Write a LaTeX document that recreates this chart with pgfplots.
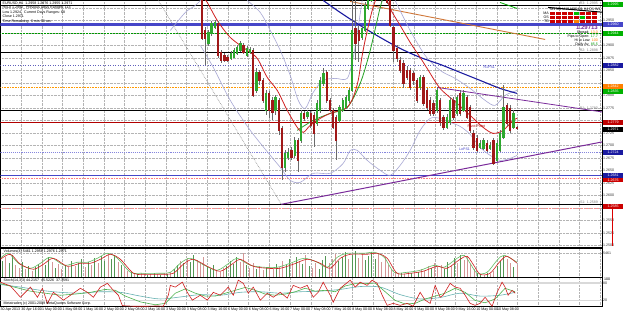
\documentclass[border=0pt]{standalone}
\usepackage{pgfplots}
\usepackage{pgfplotstable}
\pgfplotsset{compat=1.18}
\usepackage{fontspec}
\setmainfont{Liberation Sans}
\definecolor{bull}{HTML}{2EA82E}
\definecolor{bear}{HTML}{A01818}
\definecolor{wick}{HTML}{6A6A6A}
\definecolor{gridc}{HTML}{B4B4B4}
\definecolor{lav}{HTML}{A8A8D4}
\definecolor{maRed}{HTML}{D02020}
\definecolor{maGreen}{HTML}{22A022}
\definecolor{maBlue}{HTML}{1A1AA0}
\definecolor{pivBlue}{HTML}{4646C8}
\definecolor{brownline}{HTML}{D0783A}
\definecolor{purp}{HTML}{7A2A9A}
\newcommand{\tf}{\fontsize{3.6}{4.2}\selectfont}

\pgfplotstableread{
x o h l c
201.7 -3 -6 40 38
204.9 30 27 65 38
208.1 43 30 46 32
211.3 33 21 36 23
214.5 27 20 29 22
217.7 23 21 58 55
220.9 52 50 63 60
224.1 55 53 62 60
227.3 57 55 62 60
230.5 58 51 60 53
233.7 57 48 58 50
236.9 53 45 55 47
240.1 50 41 52 43
243.3 45 43 54 52
246.5 55 46 57 48
249.7 52 47 54 49
252.9 50 48 97 95
256.1 90 68 93 72
259.3 72 70 85 80
262.5 80 78 103 100
265.7 110 90 115 93
268.9 93 91 118 110
272.1 100 97 120 112
275.3 110 95 115 97
278.5 100 98 135 130
281.7 128 126 180 167
284.9 167 150 172 153
288.1 157 148 160 152
291.3 150 147 160 157
294.5 155 137 158 140
297.7 140 138 172 160
300.9 140 110 143 113
304.1 113 111 121 118
307.3 116 110 119 112
310.5 113 111 128 125
313.7 115 112 147 133
316.9 123 100 126 103
320.1 110 77 113 80
323.3 83 68 86 73
326.5 72 70 103 100
329.7 100 98 112 110
332.9 110 108 129 127
336.1 117 115 160 140
339.3 120 105 123 107
342.5 110 98 112 100
345.7 107 95 109 97
348.9 100 88 103 90
352.1 90 0 92 30
355.3 28 -2 60 43
358.5 30 25 62 40
361.7 37 26 40 28
364.9 30 2 32 5
368.1 8 -5 10 -2
371.3 0 -14 2 -10
374.5 -10 -15 -1 -4
377.7 -5 -9 0 -2
380.9 -4 -8 2 -6
384.0 -8 -12 -2 -6
386.7 -4 -8 4 2
390.0 0 -3 27 25
393.3 27 25 62 50
396.7 48 45 62 58
400.0 60 57 73 70
403.3 63 60 88 83
406.7 70 66 80 77
410.0 70 68 90 87
413.3 73 71 85 80
416.7 80 78 103 100
420.0 87 75 90 77
423.3 77 75 106 103
426.7 90 88 110 107
430.0 100 97 116 113
433.3 103 100 116 113
436.7 110 87 113 90
440.0 100 98 126 122
443.3 117 115 130 127
446.7 127 114 129 117
450.0 122 97 125 100
453.3 100 97 120 117
456.7 113 95 116 97
460.0 93 90 116 113
463.3 110 90 112 93
466.7 97 95 119 117
470.0 107 105 133 130
473.3 133 130 150 147
476.7 138 135 152 150
480.0 147 140 149 143
483.3 148 138 150 140
486.7 143 140 152 150
490.0 148 142 150 145
493.3 140 138 165 163
496.7 160 140 162 143
500.0 150 130 152 133
503.3 137 85 139 107
506.7 105 103 126 123
510.0 108 105 133 130
513.3 127 110 129 113
516.7 127 126 130 128.5
}\candles

\pgfplotstableread{
i h c
0 16 1
1 20 0
2 14 1
3 22 1
4 12 0
5 9 0
6 15 1
7 8 0
8 11 1
9 6 0
10 10 1
11 13 1
12 17 0
13 12 1
14 20 1
15 15 0
16 9 1
17 13 0
18 8 0
19 12 1
20 10 0
21 16 1
22 11 0
23 14 1
24 18 1
25 10 0
26 15 1
27 12 0
28 19 1
29 14 0
30 21 1
31 16 1
32 24 0
33 18 1
34 22 1
35 15 0
36 12 1
37 9 0
38 6 0
39 5 1
40 4 0
41 3 1
42 4 0
43 3 0
44 2 1
45 3 0
46 4 1
47 3 0
48 2 1
49 4 0
50 3 1
51 5 0
52 8 1
53 12 1
54 16 0
55 14 1
56 19 0
57 15 1
58 22 1
59 17 0
60 14 0
61 20 0
62 10 1
63 8 1
64 12 1
65 7 0
66 5 0
67 9 0
68 11 1
69 16 1
70 13 1
71 20 1
72 15 0
73 24 0
74 12 1
75 9 0
76 14 0
77 8 1
78 11 0
79 7 0
80 10 1
81 12 0
82 8 0
83 13 1
84 10 0
85 16 0
86 12 1
87 18 1
88 14 0
89 20 1
90 16 0
91 13 1
92 22 0
93 11 1
94 9 0
95 14 0
96 8 1
97 17 1
98 21 1
99 14 0
100 18 0
101 23 0
102 16 1
103 20 1
104 25 1
105 18 0
106 22 1
107 26 1
108 19 0
109 24 0
110 17 1
111 21 1
112 25 1
113 18 1
114 23 0
115 15 0
116 20 0
117 12 0
118 8 0
119 5 0
120 3 0
121 4 1
122 3 0
123 5 0
124 4 1
125 6 0
126 5 1
127 8 0
128 6 0
129 11 0
130 9 1
131 14 0
132 10 0
133 12 0
134 8 1
135 15 1
136 11 0
137 19 1
138 14 0
139 22 1
140 17 0
141 20 0
142 13 0
143 8 0
144 4 1
145 3 1
146 2 0
147 4 1
148 3 0
149 6 0
150 11 1
151 16 1
152 21 1
153 18 0
154 14 0
155 10 1
156 12 0
}\volumes

\pgfplotsset{
 panel/.style={scale only axis, width=602pt, xmin=0, xmax=602,
   axis line style={black, line width=0.9pt},
   major tick length=0pt,
   grid=major, grid style={gridc, densely dotted, line width=0.4pt},
   xtick={20.7,41.4,62.1,82.8,103.5,124.2,144.9,165.6,186.3,207,227.7,248.4,269.1,289.8,310.5,331.2,351.9,372.6,393.3,414,434.7,455.4,476.1,496.8,517.5,538.2,558.9,579.6,600.3},
   xticklabels={}, clip=true,
   yticklabel pos=right,
   yticklabel style={font=\tf, anchor=west, xshift=1pt, inner sep=0pt, text=black!80},
 },
}

\begin{document}
\begin{tikzpicture}[x=1pt,y=1pt]
\fill[white] (0,0) rectangle (625,-314);
% ================= MAIN PANEL =================
\begin{axis}[panel, at={(0pt,0pt)}, anchor=north west, height=247pt,
  ymin=0, ymax=247, y dir=reverse,
  ytick={8,20,33,45,58,70,83,95,108,120,133,145,158,170,183,195,208,220,233,245},
  yticklabels={,1.2950,,1.2900,1.2875,1.2850,,1.2800,1.2775,,1.2725,1.2700,1.2675,1.2650,1.2625,1.2600,,1.2550,1.2525,1.2500}]
% horizontal levels
\addplot[black, line width=1.1pt] coordinates {(0,5) (602,5)};
\addplot[pivBlue, line width=2.4pt] coordinates {(0,24) (602,24)};
\addplot[green!60!black, densely dotted, line width=0.5pt] coordinates {(0,33) (602,33)};
\addplot[black, line width=1.1pt] coordinates {(0,52) (602,52)};
\addplot[maBlue!70, dotted, line width=0.5pt] coordinates {(0,65) (602,65)};
\addplot[orange!80!yellow, densely dotted, line width=0.6pt] coordinates {(0,87) (602,87)};
\addplot[black, line width=1.1pt] coordinates {(0,110) (602,110)};
\addplot[red!70!black, line width=0.6pt] coordinates {(0,122) (602,122)};
\addplot[lav!80!blue, densely dotted, line width=1.1pt] coordinates {(0,152) (602,152)};
\addplot[pivBlue, line width=0.6pt] coordinates {(0,175) (602,175)};
\addplot[red!50, densely dotted, line width=0.6pt] coordinates {(0,178) (602,178)};
\addplot[black, line width=1.1pt] coordinates {(0,204) (602,204)};
\addplot[red!45, densely dotted, line width=0.6pt] coordinates {(0,208) (602,208)};
% trend lines
\addplot[gray, densely dotted, line width=0.6pt] coordinates {(158,0) (281,204)};
\addplot[purp, line width=1.0pt] coordinates {(281,204) (605,141)};
\addplot[purp, line width=0.8pt] coordinates {(437,87) (605,112)};
\addplot[brownline, line width=0.9pt] coordinates {(350,1) (545,39)};
\addplot[black, line width=1.0pt] coordinates {(548,7) (605,12)};
\addplot[green!70!black, line width=0.8pt] coordinates {(500,2) (517,8)};
% Bollinger bands
\addplot[lav, line width=0.6pt, smooth] coordinates {(170,30) (185,12) (195,5) (202,-2)};
\addplot[lav, line width=0.6pt, smooth] coordinates {(247,0) (260,12) (270,30) (280,50) (290,75) (298,100) (305,108) (313,92) (323,80) (335,78) (347,78) (353,57) (357,33) (362,0)};
\addplot[lav, line width=0.6pt, smooth] coordinates {(395,0) (410,30) (425,55) (440,70) (455,78) (470,88) (485,100) (495,105) (505,95) (517,90)};
\addplot[lav, line width=0.6pt, smooth] coordinates {(200,45) (213,67) (230,100) (250,130) (270,155) (280,167) (290,180) (300,182) (313,173) (330,173) (343,163) (350,150) (357,150) (367,160) (380,170) (390,175) (400,165) (410,150) (420,130) (430,118) (440,118) (450,122) (460,126) (470,134) (480,147) (490,155) (500,160) (510,158) (517,155)};
% moving averages
\addplot[maBlue, line width=1.1pt, smooth] coordinates {(323,0) (340,12) (360,25) (380,37) (400,48) (420,57) (440,64) (460,72) (480,80) (500,88) (517,93)};
\addplot[maGreen, line width=0.8pt, smooth] coordinates {(297,130) (313,120) (330,113) (347,107) (360,83) (370,50) (380,7) (385,-8)};
\addplot[maRed, line width=0.8pt, smooth] coordinates {(203,-2) (207,2) (217,20) (230,37) (247,50) (257,58) (267,77) (277,90) (287,110) (297,127) (303,132) (310,125) (320,118) (330,113) (340,110) (347,107) (353,97) (358,80) (362,55) (366,35) (372,10) (378,-8)};
\addplot[maRed, line width=0.8pt, smooth] coordinates {(385,-8) (390,8) (400,25) (410,42) (420,57) (427,68) (440,88) (457,103) (470,115) (483,127) (493,133) (503,130) (513,120) (517,118)};
% candles: wicks
\addplot[draw=none, forget plot, error bars/.cd, y dir=both, y explicit, error mark=none,
  error bar style={draw=wick, line width=0.5pt}]
  table[x=x, y expr={(\thisrow{h}+\thisrow{l})/2}, y error expr={(\thisrow{l}-\thisrow{h})/2}] {\candles};
% bull bodies
\addplot[draw=none, forget plot, restrict expr to domain={\thisrow{o}-\thisrow{c}}{0.01:1000},
  error bars/.cd, y dir=both, y explicit, error mark=none,
  error bar style={draw=bull, line width=2.3pt}]
  table[x=x, y expr={(\thisrow{o}+\thisrow{c})/2}, y error expr={abs(\thisrow{o}-\thisrow{c})/2+0.3}] {\candles};
% bear bodies
\addplot[draw=none, forget plot, restrict expr to domain={\thisrow{c}-\thisrow{o}}{0:1000},
  error bars/.cd, y dir=both, y explicit, error mark=none,
  error bar style={draw=bear, line width=2.3pt}]
  table[x=x, y expr={(\thisrow{o}+\thisrow{c})/2}, y error expr={abs(\thisrow{o}-\thisrow{c})/2+0.3}] {\candles};
\end{axis}
% ================= VOLUME PANEL =================
\begin{axis}[panel, at={(0pt,-248pt)}, anchor=north west, height=29pt,
  ymin=0, ymax=29, ytick={24}, yticklabels={5461}]
\addplot[draw=none, forget plot, restrict expr to domain={\thisrow{c}}{0.5:1.5},
  error bars/.cd, y dir=plus, y explicit, error mark=none,
  error bar style={draw=bull!55!gray, line width=0.7pt}]
  table[x expr={2+3.3*\thisrow{i}}, y expr=0, y error=h] {\volumes};
\addplot[draw=none, forget plot, restrict expr to domain={\thisrow{c}}{-0.5:0.5},
  error bars/.cd, y dir=plus, y explicit, error mark=none,
  error bar style={draw=bear!45!white, line width=0.7pt}]
  table[x expr={2+3.3*\thisrow{i}}, y expr=0, y error=h] {\volumes};
\addplot[maGreen!70, line width=0.6pt, smooth] coordinates {(0,19) (8,24) (18,14) (30,9) (40,14) (50,20) (64,12) (77,15) (87,15) (97,19) (107,24) (117,19) (130,5) (140,4) (157,4) (170,5) (180,14) (190,19) (204,12) (217,7) (230,15) (237,19) (250,12) (264,10) (277,10) (290,14) (304,19) (317,15) (327,10) (337,20) (347,24) (364,24) (374,25) (384,20) (394,5) (407,5) (420,7) (434,12) (444,10) (457,19) (464,22) (470,14) (477,4) (487,5) (497,17) (504,22) (517,15)};
\addplot[maRed, line width=0.6pt, smooth] coordinates {(0,18) (10,23) (20,13) (33,8) (43,13) (53,19) (67,11) (80,14) (90,14) (100,18) (110,23) (120,18) (133,4) (143,3) (160,3) (173,4) (183,13) (193,18) (207,11) (220,6) (233,14) (240,18) (253,11) (267,9) (280,9) (293,13) (307,18) (320,14) (330,9) (340,19) (350,23) (367,23) (377,24) (387,19) (397,4) (410,4) (423,6) (437,11) (447,9) (460,18) (467,21) (473,13) (480,3) (490,4) (500,16) (507,21) (517,14)};
\end{axis}
% ================= STOCH PANEL =================
\begin{axis}[panel, at={(0pt,-277pt)}, anchor=north west, height=29pt,
  ymin=0, ymax=100, ytick={20,80}, yticklabels={20,80},
  xticklabels={30 Apr 2013,30 Apr 16:00,1 May 00:00,1 May 08:00,1 May 16:00,2 May 00:00,2 May 08:00,2 May 16:00,3 May 00:00,3 May 08:00,3 May 16:00,6 May 00:00,6 May 08:00,6 May 16:00,7 May 00:00,7 May 08:00,7 May 16:00,8 May 00:00,8 May 08:00,8 May 16:00,9 May 00:00,9 May 08:00,9 May 16:00,10 May 00:00,10 May 08:00},
  xticklabel style={font=\tf, anchor=north west, inner sep=0pt, yshift=-2pt, xshift=-20.7pt}]
\addplot[gray!30, line width=1.4pt] coordinates {(0,80) (602,80)};
\addplot[gray!30, line width=1.4pt] coordinates {(0,20) (602,20)};
\addplot[teal!60, line width=0.6pt, smooth] coordinates {(0,75) (20,66) (40,55) (60,48) (80,45) (100,50) (120,48) (140,35) (160,25) (180,32) (200,40) (220,38) (240,48) (260,50) (280,45) (300,50) (320,52) (340,58) (360,68) (380,66) (400,40) (420,25) (440,30) (460,45) (480,35) (500,38) (515,48)};
\addplot[maGreen!80, line width=0.6pt] coordinates {(0,78) (15,65) (30,52) (45,45) (60,38) (75,42) (90,48) (105,58) (115,55) (125,35) (140,15) (155,5) (165,10) (175,45) (185,60) (195,45) (205,35) (215,35) (225,45) (235,55) (245,65) (255,55) (265,42) (275,38) (285,42) (295,50) (305,62) (315,52) (325,55) (335,50) (345,70) (355,78) (365,78) (375,80) (385,50) (395,20) (405,8) (415,10) (425,25) (435,35) (445,45) (455,62) (465,48) (475,20) (485,12) (495,25) (505,62) (515,50)};
\addplot[maRed, line width=0.6pt] coordinates {(0,83) (10,70) (20,31) (30,66) (37,31) (42,62) (47,10) (53,48) (63,21) (73,45) (80,62) (87,48) (93,31) (100,66) (107,79) (113,55) (118,38) (122,2) (133,0) (147,0) (157,1) (163,0) (168,38) (170,72) (175,66) (182,83) (187,48) (192,21) (200,38) (207,21) (213,48) (220,38) (228,66) (233,38) (238,90) (243,79) (248,45) (253,66) (260,21) (267,45) (273,31) (280,48) (287,28) (293,72) (300,62) (307,72) (313,31) (318,48) (323,83) (330,38) (333,14) (340,62) (350,90) (355,66) (360,83) (367,72) (372,90) (377,79) (382,38) (387,3) (393,10) (400,3) (407,10) (413,0) (420,48) (425,21) (430,10) (435,72) (440,31) (443,38) (450,79) (455,66) (460,62) (465,38) (470,10) (475,3) (480,10) (485,31) (492,0) (497,48) (502,83) (505,66) (508,38) (512,55) (515,45)};
\end{axis}
% ================= TEXT OVERLAYS =================
\begin{scope}[font=\tf, inner sep=0pt]
\node[anchor=north west, align=left] at (2,-1.5) {EURUSD,H1\ \ 1.2958 1.2976 1.2955 1.2971\\Hi/Lo 1.2992\ \ \ Previous Days Ranges: 113\\Low 1.2924\ \ \ Current Days Ranges: 68\\Close 1.2971\\[1pt]Time Remaining: 0 min 36 sec};
\node[anchor=west] at (3,-251) {Volumes(4)\ 5461 1.2958 1.2976 1.2971};
\node[anchor=west] at (3,-280) {Stoch(14,3,3)\ 44.2157\ \ 45.5226\ \ 37.3591};
\node[anchor=west] at (3,-303.5) {Metatrader, (c) 2001-2009 MetaQuotes Software Corp.};
\node[anchor=east, text=pivBlue] at (495,-67) {R1PS1};
\node[anchor=east, text=red!70!black] at (485,-126) {Pivot Point};
\node[anchor=east, text=pivBlue] at (470,-149) {LoPS1};
\node[anchor=east, text=gray] at (598,-2.5) {R3: 1.2995};
\node[anchor=east, text=gray] at (598,-49.5) {R2: 1.2898};
\node[anchor=east, text=gray] at (598,-107.5) {R1: 1.2780};
\node[anchor=east, text=gray] at (598,-201.5) {S1: 1.2589};
% info box top right
\foreach \r in {0,1,2}{
  \foreach \cc in {0,...,7}{
    \fill[red!80!black] (550+6*\cc,-11.5-4*\r) rectangle ++(5.2,-3.2);
  }
}
\fill[green!75!black] (574,-11.5) rectangle ++(5.2,-3.2);
\fill[green!75!black] (580,-15.5) rectangle ++(5.2,-3.2);
\fill[orange] (574,-19.5) rectangle ++(5.2,-3.2);
\node[anchor=south west] at (550,-10.5) {M1 M5 M15 M30 H1 H4 D1 W1};
\node[anchor=east] at (549,-13) {MA}; \node[anchor=east] at (549,-17) {OS}; \node[anchor=east] at (549,-21) {TD};
\node[anchor=east, text=purp, font=\fontsize{6}{6}\selectfont\bfseries] at (598,-27) {1.29713};
\node[anchor=east, align=right] at (598,-38) {Spread: \textcolor{orange}{13.0}\\Pips to Open: \textcolor{green!60!black}{17.7}\\Hi to Low: \textcolor{orange}{100}\\Daily Av: \textcolor{green!60!black}{85.5}};
% right scale price boxes
\node[anchor=west, fill=green!70!black, text=white, minimum width=20pt, minimum height=4.5pt] at (603,-4) {1.2995};
\node[anchor=west, fill=pivBlue, text=white, minimum width=20pt, minimum height=4.5pt] at (603,-24) {1.2960};
\node[anchor=west, fill=green!70!black, text=white, minimum width=20pt, minimum height=4.5pt] at (603,-33) {1.2944};
\node[anchor=west, fill=maBlue, text=white, minimum width=20pt, minimum height=4.5pt] at (603,-65) {1.2882};
\node[anchor=west, fill=orange, text=white, minimum width=20pt, minimum height=4.5pt] at (603,-86) {1.2842};
\node[anchor=west, fill=green!70!black, text=white, minimum width=20pt, minimum height=4.5pt] at (603,-91) {1.2835};
\node[anchor=west, fill=red!75!black, text=white, minimum width=20pt, minimum height=4.5pt] at (603,-122) {1.2779};
\node[anchor=west, fill=black, text=white, minimum width=20pt, minimum height=4.5pt] at (603,-129) {1.2971};
\node[anchor=west, fill=maBlue, text=white, minimum width=20pt, minimum height=4.5pt] at (603,-152) {1.2724};
\node[anchor=west, fill=maBlue, text=white, minimum width=20pt, minimum height=4.5pt] at (603,-175) {1.2681};
\node[anchor=west, fill=red!80!black, text=white, minimum width=20pt, minimum height=4.5pt] at (603,-179.5) {1.2676};
\node[anchor=west, fill=red!80!black, text=white, minimum width=20pt, minimum height=4.5pt] at (603,-206) {1.2585};
\node[anchor=west] at (604,-279.5) {100};
\end{scope}
\fill[red!85!black] (611.5,-208.5) rectangle (612.5,-246);
\end{tikzpicture}
\end{document}
